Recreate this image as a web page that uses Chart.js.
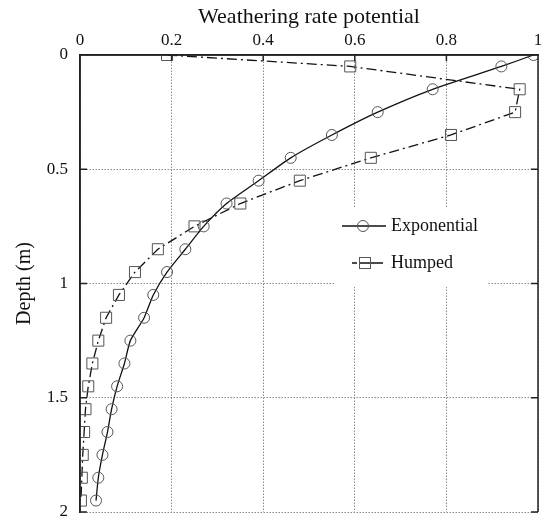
<!DOCTYPE html>
<html>
<head>
<meta charset="utf-8">
<script src="https://cdn.jsdelivr.net/npm/chart.js@4/dist/chart.umd.min.js"></script>
<style>
	html, body { margin: 0; padding: 0; background: #fff; }
	#wrap { width: 542px; height: 519px; }
</style>
</head>
<body>
<div id="wrap"><canvas id="chart" width="542" height="519"></canvas></div>
<script>
'use strict';

// Depth of each sample (m) and the two weathering rate profiles.
var depths = [0, 0.05, 0.15, 0.25, 0.35, 0.45, 0.55, 0.65, 0.75, 0.85, 0.95,
	1.05, 1.15, 1.25, 1.35, 1.45, 1.55, 1.65, 1.75, 1.85, 1.95];
var exponential = [0.99, 0.92, 0.77, 0.65, 0.55, 0.46, 0.39, 0.32, 0.27, 0.23, 0.19,
	0.16, 0.14, 0.11, 0.097, 0.081, 0.069, 0.06, 0.049, 0.04, 0.035];
var humped = [0.19, 0.59, 0.96, 0.95, 0.81, 0.635, 0.48, 0.35, 0.25, 0.17, 0.12,
	0.085, 0.057, 0.04, 0.027, 0.018, 0.012, 0.009, 0.006, 0.004, 0.002];
var seriesNames = ['Exponential', 'Humped'];
var xTicks = [0, 0.2, 0.4, 0.6, 0.8, 1];
var yTicks = [0, 0.5, 1, 1.5, 2];

var FONT = "'Liberation Serif', 'DejaVu Serif', serif";
var DASH = [10, 4, 2, 4];

function toPoints(xs) {
	return xs.map(function (v, i) {
		return { x: v, y: depths[i] };
	});
}

function plainLabel(value) {
	return String(Math.round(value * 10) / 10);
}

// Closed frame (right side) plus inward tick marks.
var frame = {
	id: 'frame',
	afterDraw: function (chart) {
		var ctx = chart.ctx;
		var a = chart.chartArea;
		var xs = chart.scales.x;
		var ys = chart.scales.y;
		ctx.save();
		ctx.strokeStyle = '#222';
		ctx.lineWidth = 1.5;
		ctx.beginPath();
		ctx.moveTo(a.left, a.bottom);
		ctx.lineTo(a.left, a.top);
		ctx.lineTo(a.right, a.top);
		ctx.lineTo(a.right, a.bottom);
		xTicks.forEach(function (t) {
			var px = xs.getPixelForValue(t);
			ctx.moveTo(px, a.top);
			ctx.lineTo(px, a.top + 6);
		});
		yTicks.forEach(function (t) {
			var py = ys.getPixelForValue(t);
			ctx.moveTo(a.left, py);
			ctx.lineTo(a.left + 7, py);
			ctx.moveTo(a.right, py);
			ctx.lineTo(a.right - 7, py);
		});
		ctx.stroke();
		ctx.restore();
	}
};

// Legend drawn inside the plot, over the grid.
var legendBox = {
	id: 'legendBox',
	beforeDatasetsDraw: function (chart) {
		var ctx = chart.ctx;
		var a = chart.chartArea;
		var x0 = a.left + 255;
		var y0 = a.top + 153;
		ctx.save();
		ctx.fillStyle = '#fff';
		ctx.fillRect(x0, y0, 153, 79);

		ctx.strokeStyle = '#111';
		ctx.lineWidth = 1.3;
		ctx.beginPath();
		ctx.moveTo(x0 + 7, y0 + 18);
		ctx.lineTo(x0 + 51, y0 + 18);
		ctx.stroke();
		ctx.strokeStyle = '#555';
		ctx.lineWidth = 1;
		ctx.beginPath();
		ctx.arc(x0 + 28, y0 + 18, 5.5, 0, Math.PI * 2);
		ctx.stroke();

		ctx.strokeStyle = '#111';
		ctx.lineWidth = 1.3;
		ctx.beginPath();
		ctx.moveTo(x0 + 17, y0 + 55);
		ctx.lineTo(x0 + 22, y0 + 55);
		ctx.moveTo(x0 + 25, y0 + 55);
		ctx.lineTo(x0 + 48, y0 + 55);
		ctx.stroke();
		ctx.strokeStyle = '#555';
		ctx.lineWidth = 1;
		ctx.strokeRect(x0 + 24.5, y0 + 49.5, 11, 11);

		ctx.fillStyle = '#111';
		ctx.font = '18px ' + FONT;
		ctx.textBaseline = 'middle';
		ctx.fillText(seriesNames[0], x0 + 56, y0 + 18);
		ctx.fillText(seriesNames[1], x0 + 56, y0 + 55);
		ctx.restore();
	}
};

new Chart(document.getElementById('chart').getContext('2d'), {
	type: 'scatter',
	data: {
		datasets: [
			{
				label: seriesNames[0],
				data: toPoints(exponential),
				showLine: true,
				borderColor: '#111',
				borderWidth: 1.3,
				tension: 0.2,
				pointStyle: 'circle',
				pointRadius: 5.5,
				pointBorderWidth: 1,
				pointBorderColor: '#555',
				pointBackgroundColor: 'rgba(255,255,255,0)'
			},
			{
				label: seriesNames[1],
				data: toPoints(humped),
				showLine: true,
				borderColor: '#111',
				borderWidth: 1.3,
				borderDash: DASH,
				tension: 0,
				pointStyle: 'rect',
				pointRadius: 7.8,
				pointBorderWidth: 1,
				pointBorderColor: '#555',
				pointBackgroundColor: 'rgba(255,255,255,0)'
			}
		]
	},
	options: {
		responsive: false,
		animation: false,
		events: [],
		layout: {
			autoPadding: false,
			padding: { left: 0, right: 4, top: 0, bottom: 7 }
		},
		plugins: {
			legend: { display: false },
			tooltip: { enabled: false }
		},
		scales: {
			x: {
				type: 'linear',
				position: 'top',
				min: 0,
				max: 1,
				afterBuildTicks: function (s) {
					s.ticks = xTicks.map(function (v) { return { value: v }; });
				},
				ticks: {
					color: '#111',
					font: { family: FONT, size: 17, lineHeight: 1 },
					padding: 0,
					callback: plainLabel
				},
				grid: {
					color: '#8a8a8a',
					lineWidth: 1,
					drawTicks: true,
					tickLength: 6,
					tickColor: 'rgba(0,0,0,0)'
				},
				border: { display: true, color: '#222', width: 1.5, dash: [1.5, 1.5] },
				title: {
					display: true,
					text: 'Weathering rate potential',
					color: '#111',
					font: { family: FONT, size: 22, lineHeight: 1 },
					padding: { top: 6, bottom: 2 }
				},
				afterFit: function (s) {
					s.height = 55;
					s.paddingLeft = 0;
					s.paddingRight = 0;
				}
			},
			y: {
				type: 'linear',
				reverse: true,
				min: 0,
				max: 2,
				afterBuildTicks: function (s) {
					s.ticks = yTicks.map(function (v) { return { value: v }; });
				},
				ticks: {
					color: '#111',
					font: { family: FONT, size: 17, lineHeight: 0.8 },
					padding: 0,
					callback: plainLabel
				},
				grid: {
					color: '#8a8a8a',
					lineWidth: 1,
					drawTicks: true,
					tickLength: 12,
					tickColor: 'rgba(0,0,0,0)'
				},
				border: { display: true, color: '#222', width: 1.5, dash: [1.5, 1.5] },
				title: {
					display: true,
					text: 'Depth (m)',
					color: '#111',
					font: { family: FONT, size: 20 },
					padding: { top: 13, bottom: 4 }
				},
				afterFit: function (s) {
					s.width = 80;
					s.paddingTop = 0;
					s.paddingBottom = 0;
				}
			}
		}
	},
	plugins: [legendBox, frame]
});
</script>
</body>
</html>
